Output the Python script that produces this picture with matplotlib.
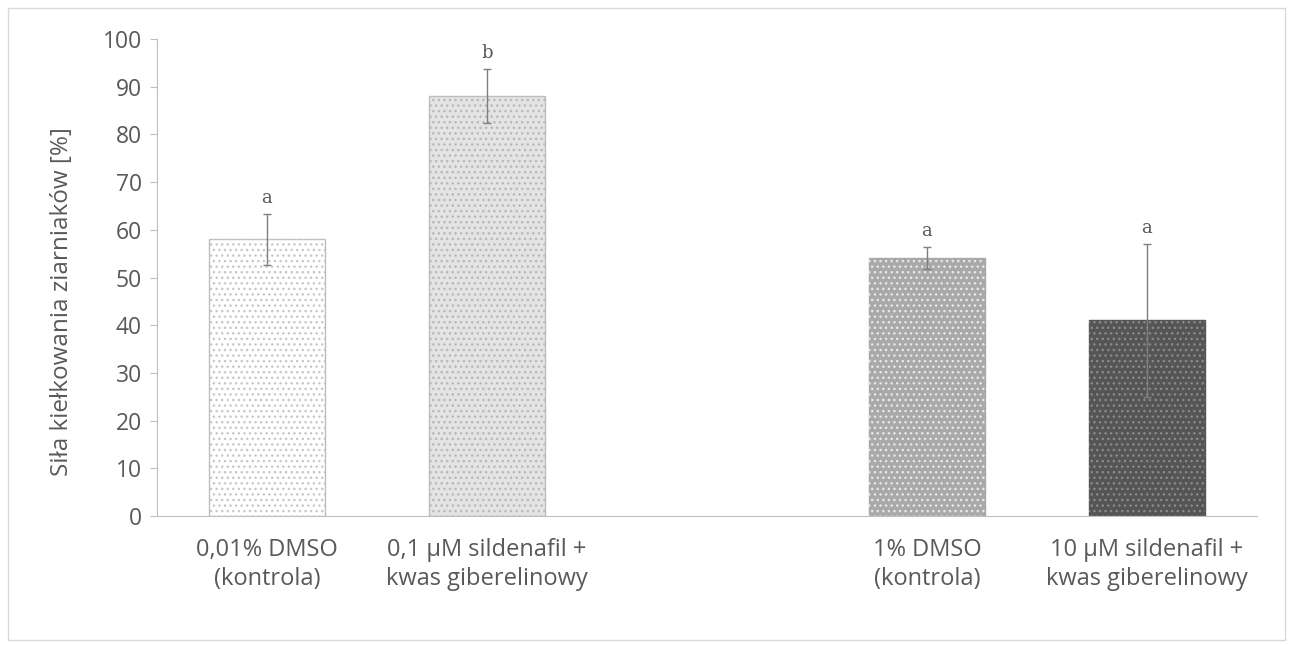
import matplotlib
matplotlib.use("Agg")
import matplotlib.pyplot as plt
from matplotlib.patches import Rectangle

categories = ["0,01% DMSO\n(kontrola)", "0,1 µM sildenafil +\nkwas giberelinowy",
              "1% DMSO\n(kontrola)", "10 µM sildenafil +\nkwas giberelinowy"]
positions = [0, 1, 3, 4]
values = [58, 88, 54, 41]
errors = [5.3, 5.7, 2.3, 16]
letters = ["a", "b", "a", "a"]
yticks = list(range(0, 101, 10))

faces = ["#ffffff", "#e4e4e4", "#a9a9a9", "#555555"]
dots = ["#c8c8c8", "#b8b8b8", "#e8e8e8", "#8a8a8a"]
edges = ["#bdbdbd", "#bdbdbd", "#a9a9a9", "#555555"]

plt.rcParams['font.family'] = ['Open Sans', 'DejaVu Sans']
txt = "#595959"

fig = plt.figure(figsize=(12.9, 6.45), dpi=100)
fig.patches.append(Rectangle((0.006, 0.008), 0.99, 0.98, transform=fig.transFigure,
                             fill=False, edgecolor="#d9d9d9", linewidth=1))
ax = fig.add_axes([0.1217, 0.2, 0.8527, 0.7395])

w = 0.53
for p, v, e, f, d, ec in zip(positions, values, errors, faces, dots, edges):
    ax.bar(p, v, width=w, color=f, edgecolor=ec, linewidth=1, zorder=2)
    ax.bar(p, v, width=w, color="none", edgecolor=d, hatch="...", linewidth=0, zorder=3)
ax.errorbar(positions, values, yerr=errors, fmt="none", ecolor="#7f7f7f",
            elinewidth=1, capsize=3, capthick=1, zorder=4)
for p, v, e, l in zip(positions, values, errors, letters):
    ax.text(p, v + e + 1.5, l, ha="center", va="bottom", family="DejaVu Serif",
            fontsize=13, color=txt)

ax.set_xlim(-0.5, 4.5)
ax.set_ylim(0, 100)
ax.set_yticks(yticks)
ax.set_xticks(positions)
ax.set_xticklabels(categories, fontsize=17, color=txt, linespacing=1.25)
ax.tick_params(axis="x", length=0, pad=16)
ax.tick_params(axis="y", labelsize=16.5, labelcolor=txt, color="#bfbfbf", length=5, pad=6)
for s in ["top", "right"]:
    ax.spines[s].set_visible(False)
for s in ["left", "bottom"]:
    ax.spines[s].set_color("#bfbfbf")
ax.set_ylabel("Siła kiełkowania ziarniaków [%]", fontsize=17.5, color=txt)
ax.yaxis.set_label_coords(-0.075, 0.45)

fig.savefig("out.png", dpi=100)
